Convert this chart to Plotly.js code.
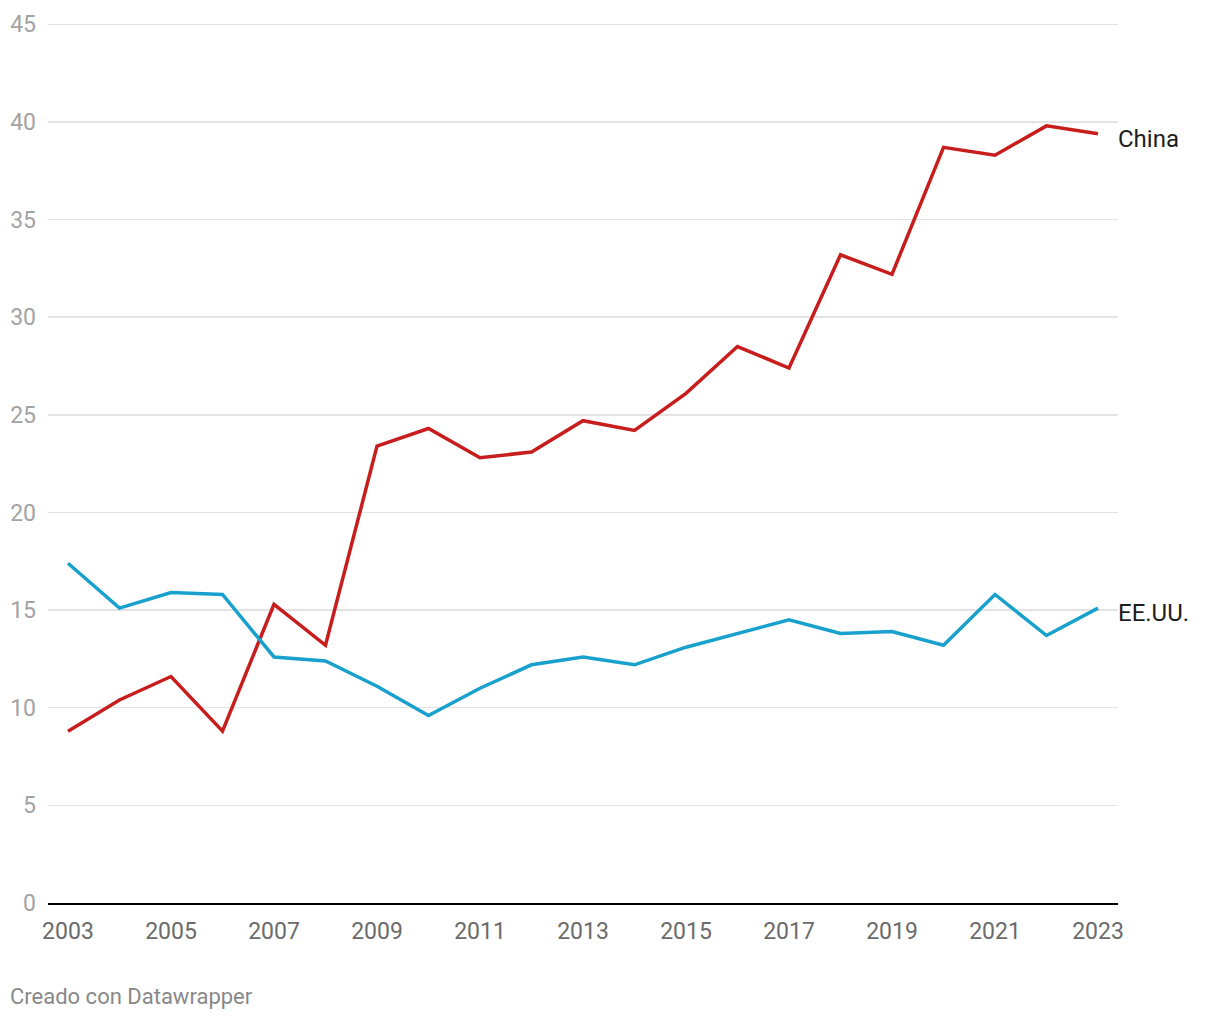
<!DOCTYPE html>
<html>
<head>
<meta charset="utf-8">
<script src="https://cdn.plot.ly/plotly-3.0.1.min.js"></script>
<style>
html,body{margin:0;padding:0;background:#fff;}
#chart{width:1220px;height:1020px;}
</style>
</head>
<body>
<div id="chart"></div>
<script>
const years = [2003,2004,2005,2006,2007,2008,2009,2010,2011,2012,2013,2014,2015,2016,2017,2018,2019,2020,2021,2022,2023];
const china = [8.8,10.4,11.6,8.8,15.3,13.2,23.4,24.3,22.8,23.1,24.7,24.2,26.1,28.5,27.4,33.2,32.2,38.7,38.3,39.8,39.4];
const usa = [17.4,15.1,15.9,15.8,12.6,12.4,11.1,9.6,11.0,12.2,12.6,12.2,13.1,13.8,14.5,13.8,13.9,13.2,15.8,13.7,15.1];
const seriesNames = ["China","EE.UU."];
const seriesColors = ["#c71e1d","#18a1cd"];
const yTicks = [0,5,10,15,20,25,30,35,40,45];
const xTicks = [2003,2005,2007,2009,2011,2013,2015,2017,2019,2021,2023];

const allSeries = [china, usa];
const traces = allSeries.map((s,i)=>({
  x: years, y: s, type:'scatter', mode:'lines', name: seriesNames[i],
  line:{color: seriesColors[i], width:3.5}, hoverinfo:'skip'
}));

const annotations = allSeries.map((s,i)=>({
  x: years[years.length-1], y: s[s.length-1], xref:'x', yref:'y',
  text: seriesNames[i], showarrow:false, xanchor:'left', yanchor:'middle',
  xshift: 18, yshift: -5,
  font:{family:'Roboto', size:24, color:'#1d1d1d'}
}));
annotations.push({
  x:0, y:0, xref:'paper', yref:'paper', xanchor:'left', yanchor:'top',
  text:'Creado con Datawrapper', showarrow:false,
  xshift: -40, yshift: -79,
  font:{family:'Roboto', size:22, color:'#888'}
});

const layout = {
  width:1220, height:1020,
  margin:{l:48, r:102, t:22, b:117},
  paper_bgcolor:'#fff', plot_bgcolor:'#fff',
  showlegend:false,
  font:{family:'Roboto'},
  xaxis:{
    range:[2002.612, 2023.388],
    tickvals: xTicks, ticktext: xTicks.map(String),
    showgrid:false, zeroline:false,
    showline:true, linecolor:'#000', linewidth:2,
    ticks:'', ticklabelstandoff: 6,
    tickfont:{family:'Roboto', size:23, color:'#6b6b6b'}
  },
  yaxis:{
    range:[0, 45.12],
    tickvals: yTicks, ticktext: yTicks.map(String),
    showgrid:true, gridcolor:'#e3e3e3', gridwidth:1.5,
    zeroline:false, showline:false,
    ticks:'', ticklabelstandoff: 11,
    tickfont:{family:'Roboto', size:23, color:'#a3a3a3'}
  },
  annotations: annotations
};

Plotly.newPlot('chart', traces, layout, {displayModeBar:false, staticPlot:true});
</script>
</body>
</html>
